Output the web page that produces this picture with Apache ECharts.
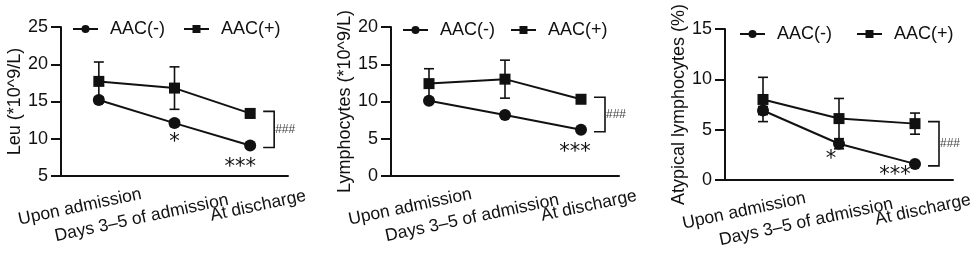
<!DOCTYPE html>
<html>
<head>
<meta charset="utf-8">
<script src="https://cdn.jsdelivr.net/npm/echarts@6/dist/echarts.min.js"></script>
<style>
html, body { margin: 0; padding: 0; background: #fff; }
#chart { width: 975px; height: 255px; }
</style>
</head>
<body>
<div id="chart"></div>
<script>
// categories and groups
var categories = ['Upon admission', 'Days 3–5 of admission', 'At discharge'];
var groups = ['AAC(-)', 'AAC(+)'];

// Leu (*10^9/L)
var leuMinus = [15.2, 12.1, 9.1];
var leuMinusErr = [0.4, 0.4, 0.3];
var leuPlus = [17.7, 16.8, 13.4];
var leuPlusErr = [2.6, 2.85, 0.6];
var leuSig = ['', '*', '***'];

// Lymphocytes (*10^9/L)
var lymMinus = [10.1, 8.2, 6.2];
var lymMinusErr = [0.3, 0.3, 0.3];
var lymPlus = [12.4, 13.0, 10.3];
var lymPlusErr = [2.0, 2.55, 0.35];
var lymSig = ['', '', '***'];

// Atypical lymphocytes (%)
var atyMinus = [6.9, 3.6, 1.6];
var atyMinusErr = [0.4, 0.5, 0.2];
var atyPlus = [8.0, 6.1, 5.6];
var atyPlusErr = [2.2, 2.0, 1.05];
var atySig = ['', '*', '***'];

// y axis ticks [min, max, interval] and names
var yTicks = [[5, 25, 5], [0, 20, 5], [0, 15, 5]];
var yNames = ['Leu (*10^9/L)', 'Lymphocytes (*10^9/L)', 'Atypical lymphocytes (%)'];
var groupMark = '###';

var panels = [
    { minus: leuMinus, minusErr: leuMinusErr, plus: leuPlus, plusErr: leuPlusErr, sig: leuSig },
    { minus: lymMinus, minusErr: lymMinusErr, plus: lymPlus, plusErr: lymPlusErr, sig: lymSig },
    { minus: atyMinus, minusErr: atyMinusErr, plus: atyPlus, plusErr: atyPlusErr, sig: atySig }
];

// layout / style only
var layout = [
    { grid: { left: 61, top: 27, width: 227, height: 149 }, legend: { left: 67, top: 15, itemGap: 18 }, nameGap: 36,
      starOff: [null, [0, 19], [-10, 22]] },
    { grid: { left: 391, top: 27, width: 228, height: 149 }, legend: { left: 397, top: 16, itemGap: 15 }, nameGap: 33,
      starOff: [null, null, [-6, 23]] },
    { grid: { left: 725, top: 29, width: 228, height: 151 }, legend: { left: 734, top: 20, itemGap: 24 }, nameGap: 36,
      starOff: [null, [-8, 16], [-20, 12]] }
];

var FONT = 'Liberation Sans, Arial, sans-serif';
var INK = '#111';

// 类别标签各自的偏移 (rich padding)
var labelRich = {
    c0: { padding: [0, 37, 8, 0] },
    c1: { padding: [8, 69, 0, 0] },
    c2: { padding: [1, 0, 0, 16] }
};

function errorBarItem(params, api) {
    var lo = api.coord([api.value(0), api.value(1)]);
    var hi = api.coord([api.value(0), api.value(2)]);
    var w = 5;
    return {
        type: 'group',
        children: [
            { type: 'line', shape: { x1: lo[0], y1: lo[1], x2: hi[0], y2: hi[1] }, style: { stroke: INK, lineWidth: 1.6 } },
            { type: 'line', shape: { x1: lo[0] - w, y1: lo[1], x2: lo[0] + w, y2: lo[1] }, style: { stroke: INK, lineWidth: 1.6 } },
            { type: 'line', shape: { x1: hi[0] - w, y1: hi[1], x2: hi[0] + w, y2: hi[1] }, style: { stroke: INK, lineWidth: 1.6 } }
        ]
    };
}

function bracketItem(params, api) {
    var top = api.coord([api.value(0), api.value(1)]);
    var bot = api.coord([api.value(0), api.value(2)]);
    var x0 = top[0] + 13, x1 = top[0] + 24;
    var y0 = top[1] - 2, y1 = bot[1] + 2;
    return {
        type: 'group',
        children: [
            { type: 'polyline', shape: { points: [[x0, y0], [x1, y0], [x1, y1], [x0, y1]] },
              style: { stroke: INK, lineWidth: 1.6, fill: null } },
            { type: 'text', x: x1 + 11, y: (y0 + y1) / 2,
              style: { text: groupMark, fill: '#444', fontSize: 12, fontFamily: FONT, align: 'center', verticalAlign: 'middle' } }
        ]
    };
}

var option = {
    backgroundColor: '#fff',
    animation: false,
    grid: [], xAxis: [], yAxis: [], legend: [], series: []
};

panels.forEach(function(p, k) {
    var L = layout[k];
    option.grid.push(Object.assign({ outerBoundsMode: 'none' }, L.grid));
    option.xAxis.push({
        type: 'category', gridIndex: k, data: categories, boundaryGap: true,
        axisLine: { lineStyle: { color: INK, width: 2 } },
        axisTick: { alignWithLabel: true, length: 9, lineStyle: { color: INK, width: 2 } },
        axisLabel: {
            interval: 0, rotate: 12, margin: 31, align: 'center', verticalAlign: 'middle',
            color: INK, fontSize: 17.5, fontFamily: FONT,
            formatter: function(v, i) { return '{c' + i + '|' + v + '}'; },
            rich: labelRich
        },
        splitLine: { show: false }
    });
    option.yAxis.push({
        type: 'value', gridIndex: k, min: yTicks[k][0], max: yTicks[k][1], interval: yTicks[k][2],
        name: yNames[k], nameLocation: 'middle', nameGap: L.nameGap,
        nameTextStyle: { color: INK, fontSize: 18, fontFamily: FONT },
        axisLine: { show: true, lineStyle: { color: INK, width: 2 } },
        axisTick: { show: true, length: 10, lineStyle: { color: INK, width: 2 } },
        axisLabel: { color: INK, fontSize: 18, fontFamily: FONT, margin: 13 },
        splitLine: { show: false }
    });
    option.legend.push({
        data: groups, left: L.legend.left, top: L.legend.top, itemGap: L.legend.itemGap,
        itemWidth: 25, itemHeight: 10, selectedMode: false,
        textStyle: { color: INK, fontSize: 18, fontFamily: FONT, padding: [0, 0, 0, 7] }
    });

    var lineStyle = { color: INK, width: 2 };
    option.series.push({
        name: groups[0], type: 'line', xAxisIndex: k, yAxisIndex: k, data: p.minus,
        symbol: 'circle', symbolSize: 12, itemStyle: { color: INK }, lineStyle: lineStyle, z: 3
    });
    option.series.push({
        name: groups[1], type: 'line', xAxisIndex: k, yAxisIndex: k, data: p.plus,
        symbol: 'rect', symbolSize: 11, itemStyle: { color: INK }, lineStyle: lineStyle, z: 3
    });
    [[p.minus, p.minusErr], [p.plus, p.plusErr]].forEach(function(g) {
        option.series.push({
            type: 'custom', xAxisIndex: k, yAxisIndex: k, z: 2,
            renderItem: errorBarItem,
            data: g[0].map(function(v, i) { return [i, v - g[1][i], v + g[1][i]]; })
        });
    });
    var last = categories.length - 1;
    option.series.push({
        type: 'custom', xAxisIndex: k, yAxisIndex: k, z: 2,
        renderItem: bracketItem,
        data: [[last, p.plus[last], p.minus[last]]]
    });
    option.series.push({
        type: 'custom', xAxisIndex: k, yAxisIndex: k, z: 4,
        renderItem: function(params, api) {
            var i = api.value(0);
            var s = p.sig[i];
            if (!s) return null;
            var c = api.coord([i, api.value(1)]);
            var off = L.starOff[i];
            return { type: 'text', x: c[0] + off[0], y: c[1] + off[1],
                style: { text: s, fill: INK, fontSize: 21, fontFamily: 'DejaVu Sans', align: 'center', verticalAlign: 'middle' } };
        },
        data: p.minus.map(function(v, i) { return [i, v]; })
    });
});

var myChart = echarts.init(document.getElementById('chart'));
myChart.setOption(option);
</script>
</body>
</html>
